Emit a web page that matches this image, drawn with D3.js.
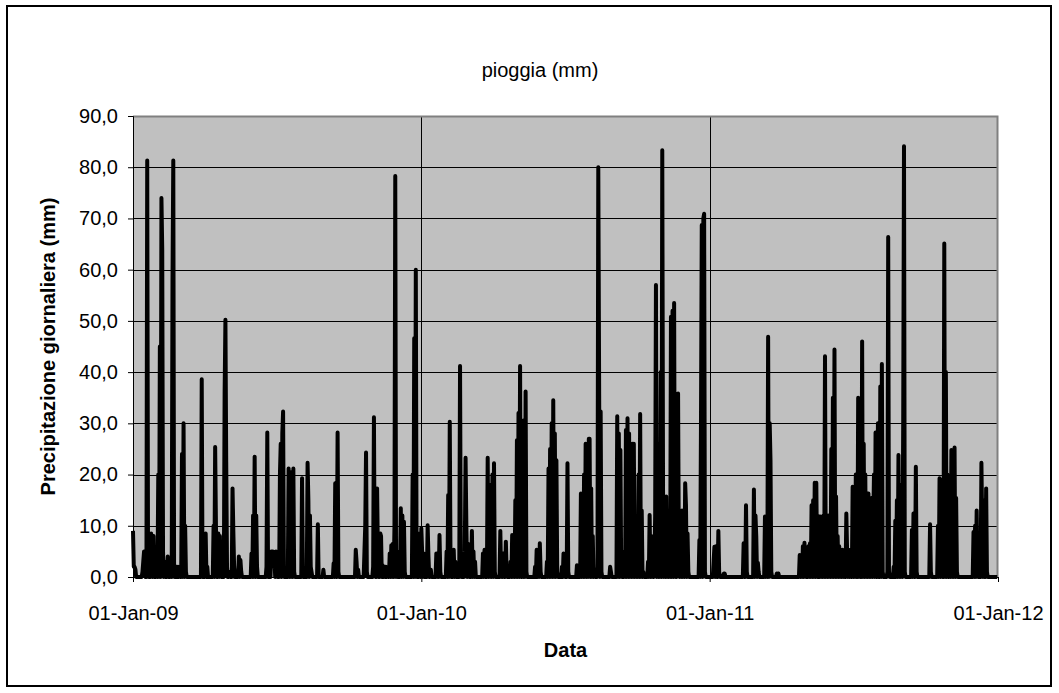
<!DOCTYPE html>
<html>
<head>
<meta charset="utf-8">
<script src="https://cdn.jsdelivr.net/npm/d3@7/dist/d3.min.js"></script>
<style>
  html, body { margin: 0; padding: 0; background: #fff; }
  svg { display: block; }
  text { font-family: "Liberation Sans", Arial, sans-serif; fill: #000; }
</style>
</head>
<body>
<svg id="chart" width="1059" height="693"></svg>
<script>
// ---- data ----
const chartTitle = "pioggia (mm)";
const xTitle = "Data";
const yTitle = "Precipitazione giornaliera (mm)";
const startDate = "2009-01-01";
const endDate = "2012-01-01";
const xTickDates = ["2009-01-01", "2010-01-01", "2011-01-01", "2012-01-01"];
const yTicks = [0, 10, 20, 30, 40, 50, 60, 70, 80, 90];

// rainy days: offset in days from 01-Jan-09, and daily rain in mm (all other days are 0)
const rainDay = [
  0,1,2,3,12,13,14,15,18,19,23,24,26,30,32,34,36,37,38,40,44,48,50,51,52,55,57,59,
  62,64,66,67,87,92,94,102,104,105,108,110,111,116,117,118,119,122,126,127,128,
  134,136,137,150,152,154,156,157,169,170,175,176,177,178,179,181,182,
  186,187,189,190,191,197,199,201,203,204,214,215,221,222,224,225,226,234,241,
  254,256,259,260,282,283,285,293,294,295,296,304,305,306,
  309,310,313,314,316,318,320,322,325,327,329,331,332,334,339,341,343,344,
  354,356,358,359,361,363,
  365,366,368,370,373,374,377,384,386,388,389,397,399,401,402,406,408,410,414,415,
  420,421,422,424,425,429,431,433,443,445,449,451,453,455,457,458,
  465,467,469,472,473,478,480,482,484,486,488,490,491,493,495,497,498,
  509,511,513,515,516,524,526,528,530,532,534,536,537,543,545,546,550,551,562,
  567,569,571,573,575,577,578,580,582,584,588,589,590,592,593,604,605,
  613,615,617,618,622,624,626,628,630,632,634,636,638,640,642,644,646,
  652,654,656,658,660,661,662,664,666,668,670,671,673,675,677,679,681,683,685,686,
  689,690,691,693,695,697,699,700,702,703,717,719,720,722,723,724,
  735,736,738,741,742,748,749,773,776,777,786,788,789,791,792,
  800,802,804,806,807,808,815,817,844,846,848,850,851,
  855,857,859,861,863,865,866,868,870,872,874,876,878,880,882,884,886,888,890,
  892,894,896,898,900,903,904,906,908,911,913,915,918,920,923,925,927,929,931,
  933,935,937,938,940,943,946,948,949,955,956,957,
  963,965,967,969,971,973,975,976,977,986,988,991,992,1009,1010,
  1019,1021,1023,1024,1027,1029,1031,1034,1036,1038,1040,1042,1043,
  1064,1066,1068,1069,1074,1075,1077,1080,1081
];
const rainMm = [
  9,2,2,1.5,1,3,5,2,81.3,5,8.5,3,8,3,20,45,74,64,5,3,4,3,58,81.3,2,2,2,1.5,
  24,30,10,1,38.6,8.5,2,10,25.4,10,8.5,8,1,36,50.2,22.5,2,1,17.3,9,2,
  4,3.3,1,4.6,12,23.5,12,2,2,28.2,5,3,5,2,4,5,1,
  20,26,28,32.3,2,21.2,20,20.5,21.2,1,19.3,2,22.3,15,12,2,1,10.3,1.4,
  2.7,18.3,28.2,1,5.3,3,1.4,5,10,24.3,1,2,31.2,1,
  17.3,5,8.5,8,2.3,1,2,1,4.6,6.2,6.5,10,78.3,5,13.4,12,10.8,1,
  20,46.6,60,2,8.5,3,
  9.5,5,4.6,2,10.1,4,1.4,4.6,3,8.2,1,5,16,30.3,1,5.3,3,2,41.2,1,
  5,23.3,10,6.5,1,9,5,3,4.6,5.3,23.3,18,17.6,20,22.2,1,
  9,4,4.6,6.9,1,3,8.2,5,15,26.7,32,41.2,2,1,30.6,36.2,1,
  2,5.3,3,6.6,1,3,21.2,25,30,34.5,28,22.8,1,2,4.6,1,22.2,1,2.3,
  16.3,14,20,26,20,27,27,17.3,8,1,2,80,40,32.3,1,2,1,
  31.4,28,24.8,1,5,28.7,31,28,25,26,26,10,8,20,31.8,13,1,
  3,12.1,8,1,2,12,57,26,26,40,83.3,15.7,15,15.7,13,13,50.8,52,53.5,1,
  12,35.8,5,9.8,13,10,18.3,14,8.5,1,7.2,30,68.7,70,70.9,1,
  3,5.9,6,9,1,0.7,0.7,6.6,14,1,17.1,12,7.9,2.8,1,
  11.8,5,46.9,30,22.8,1,0.7,0.7,4.3,4,6,6.7,1,
  6,6.6,14,15,18.4,18.4,2,11.8,11.8,10,12,43.1,12,12,11.8,25,35,44.4,15.7,
  8,6,5,5.3,4,12.4,5,5.3,3,17.6,12,20,35,30,46,26,20,16.3,16.3,
  14,15.4,10,20,28.2,30,37.2,41.6,1,1,66.4,1,
  2,11,15,23.8,18,18,30,84.1,1,9.2,12.4,21.5,1,10.3,1,
  10,19.3,19,5,65.1,40,20,12,24.8,24,25.3,15.4,1,
  8.8,10,13,1,22.3,10,15,17.3,1
];

// ---- build daily series (dry days = 0) ----
const t0 = new Date(startDate + "T00:00:00Z");
const t1 = new Date(endDate + "T00:00:00Z");
const nDays = d3.utcDay.count(t0, t1);
const rainByDay = new Map(rainDay.map((d, i) => [d, rainMm[i]]));
const series = d3.range(nDays).map(i => ({ date: d3.utcDay.offset(t0, i), value: rainByDay.get(i) || 0 }));

// ---- layout ----
const svg = d3.select("#chart");
const plot = { left: 133, right: 998, top: 116, bottom: 577 };

const x = d3.scaleUtc().domain([t0, t1]).range([plot.left, plot.right]);
const y = d3.scaleLinear().domain([0, 90]).range([plot.bottom, plot.top]);

const itLocale = d3.formatLocale({ decimal: ",", thousands: ".", grouping: [3], currency: ["€", ""] });
const fmtY = itLocale.format(".1f");
const fmtX = d3.utcFormat("%d-%b-%y");

// outer frame
svg.append("rect").attr("x", 7).attr("y", 6).attr("width", 1044).attr("height", 680)
  .attr("fill", "#fff").attr("stroke", "#000").attr("stroke-width", 2);

// plot background
svg.append("rect").attr("x", plot.left).attr("y", plot.top)
  .attr("width", plot.right - plot.left).attr("height", plot.bottom - plot.top)
  .attr("fill", "#C0C0C0");

// horizontal gridlines
svg.append("g").selectAll("line").data(yTicks.filter(v => v > 0 && v < 90)).join("line")
  .attr("x1", plot.left).attr("x2", plot.right)
  .attr("y1", d => Math.round(y(d)) + 0.5).attr("y2", d => Math.round(y(d)) + 0.5)
  .attr("stroke", "#000").attr("stroke-width", 1);

// vertical gridlines
const xTicks = xTickDates.map(s => new Date(s + "T00:00:00Z"));
svg.append("g").selectAll("line").data(xTicks.slice(1, -1)).join("line")
  .attr("x1", d => Math.round(x(d)) + 0.5).attr("x2", d => Math.round(x(d)) + 0.5)
  .attr("y1", plot.top).attr("y2", plot.bottom)
  .attr("stroke", "#000").attr("stroke-width", 1);

// plot border top/right (grey)
svg.append("path")
  .attr("d", `M${plot.left},${plot.top + 0.5}H${plot.right - 0.5}V${plot.bottom}`)
  .attr("fill", "none").attr("stroke", "#808080").attr("stroke-width", 2);

// y axis
const yAxis = svg.append("g").attr("transform", `translate(${plot.left},0)`)
  .call(d3.axisLeft(y).tickValues(yTicks).tickFormat(fmtY).tickSize(5).tickPadding(10));
yAxis.select(".domain").attr("stroke", "#000").attr("stroke-width", 1);
yAxis.selectAll(".tick line").attr("stroke", "#000");
yAxis.selectAll(".tick text").attr("font-size", 20).attr("font-family", "'Liberation Sans', Arial, sans-serif");

// x axis
const xAxis = svg.append("g").attr("transform", `translate(0,${plot.bottom})`)
  .call(d3.axisBottom(x).tickValues(xTicks).tickFormat(fmtX).tickSize(5).tickPadding(24));
xAxis.select(".domain").attr("stroke", "#000").attr("stroke-width", 1);
xAxis.selectAll(".tick line").attr("stroke", "#000");
xAxis.selectAll(".tick text").attr("font-size", 20).attr("font-family", "'Liberation Sans', Arial, sans-serif");

// rain line
const line = d3.line().x(d => x(d.date)).y(d => y(d.value));
svg.append("path").datum(series)
  .attr("d", line)
  .attr("fill", "none").attr("stroke", "#000").attr("stroke-width", 4)
  .attr("stroke-linejoin", "round");

// titles
svg.append("text").attr("x", 540).attr("y", 77).attr("text-anchor", "middle")
  .attr("font-size", 20).text(chartTitle);
svg.append("text").attr("x", (plot.left + plot.right) / 2).attr("y", 657).attr("text-anchor", "middle")
  .attr("font-size", 20).attr("font-weight", "bold").text(xTitle);
svg.append("text").attr("transform", `translate(55,${(plot.top + plot.bottom) / 2}) rotate(-90)`)
  .attr("text-anchor", "middle").attr("font-size", 20).attr("font-weight", "bold").text(yTitle);
</script>
</body>
</html>
